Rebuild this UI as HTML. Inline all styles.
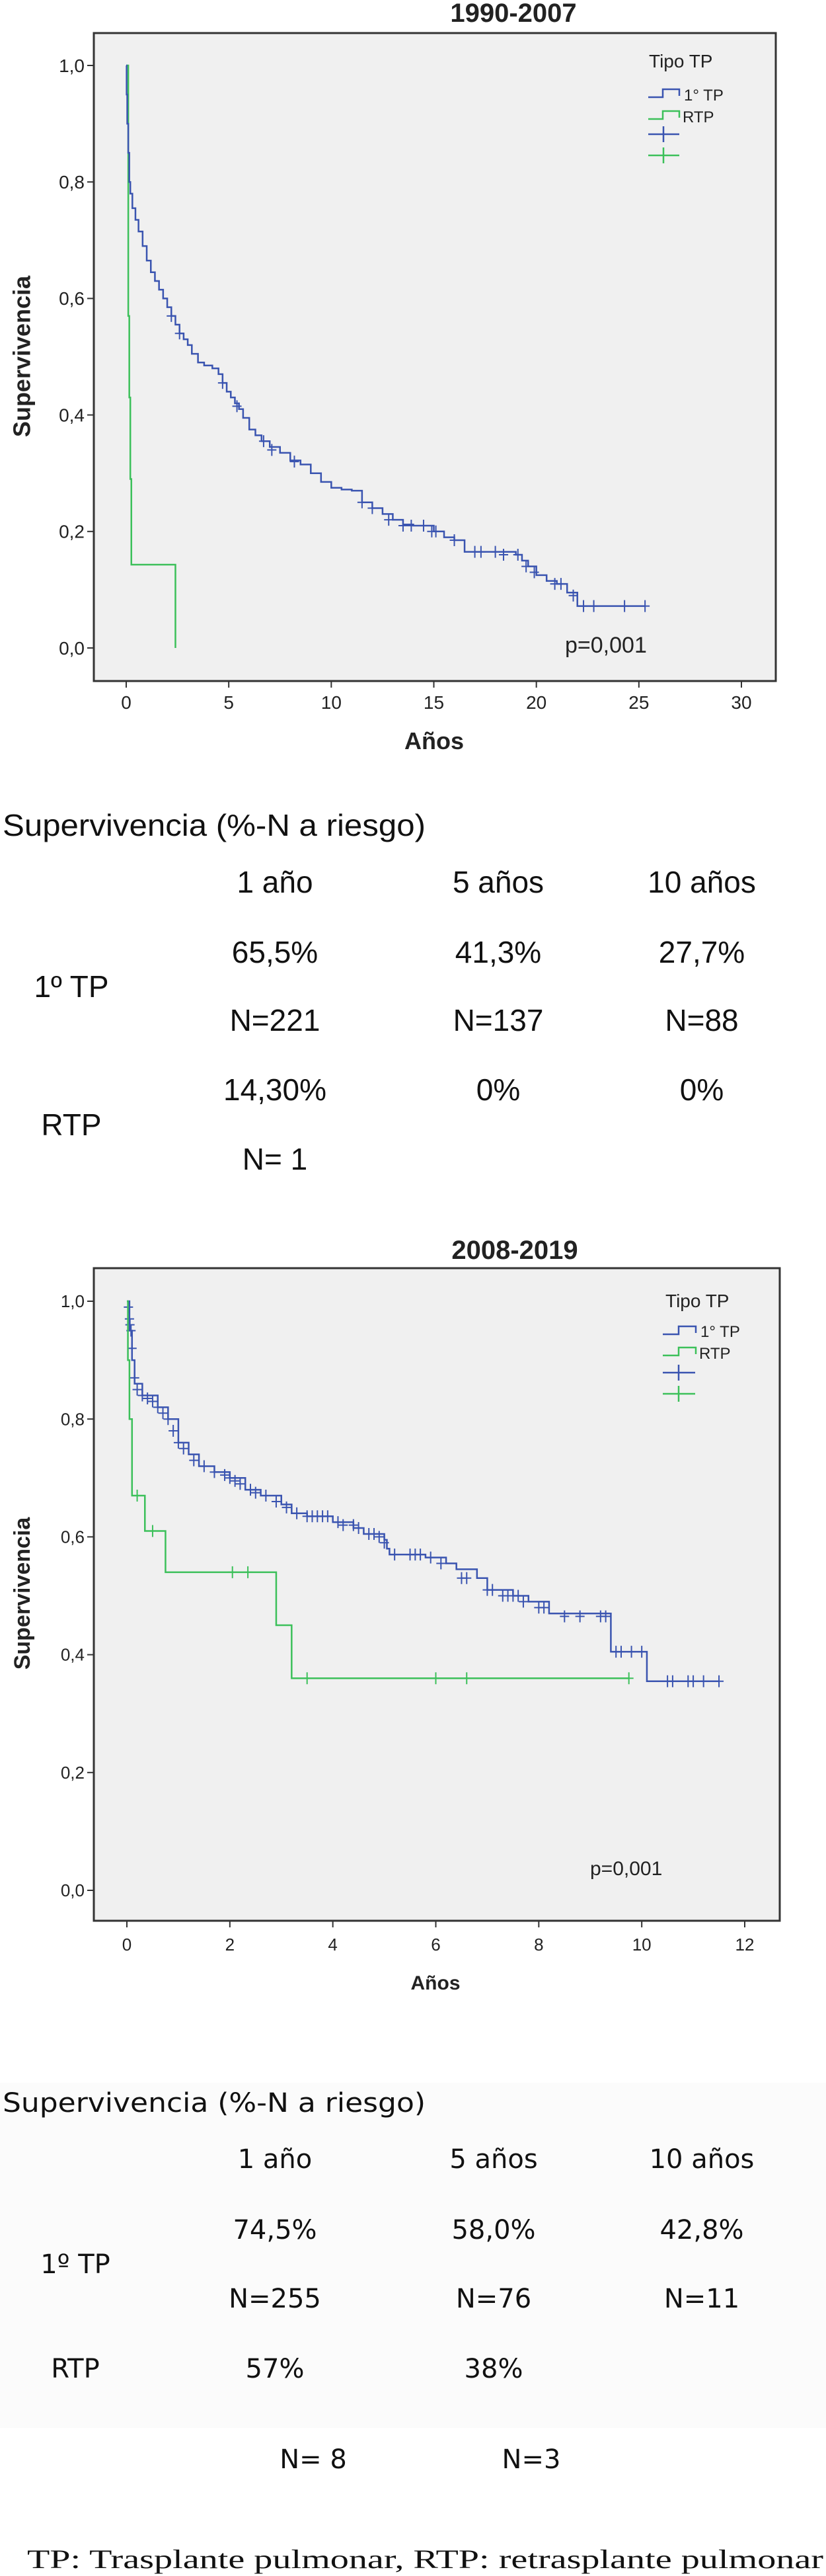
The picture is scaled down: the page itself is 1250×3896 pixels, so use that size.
<!DOCTYPE html>
<html><head><meta charset="utf-8"><style>
html,body{margin:0;padding:0;background:#fff;}
svg{display:block;}
.ax{font-family:"Liberation Sans",sans-serif;fill:#222;}
.b{font-weight:bold;}
.t1{font-family:"Liberation Sans Narrow","Liberation Sans",sans-serif;fill:#111;}
.t2{font-family:"DejaVu Sans","Liberation Sans",sans-serif;fill:#111;}
.ft{font-family:"Liberation Serif",serif;fill:#111;}
</style></head><body>
<svg id="root" width="1250" height="3896" viewBox="0 0 1250 3896" xmlns="http://www.w3.org/2000/svg">
<rect x="0" y="3150" width="1250" height="522" fill="#fbfbfb"/>
<!-- Chart 1 -->
<g>
<text class="ax b" x="777" y="33" font-size="40" text-anchor="middle">1990-2007</text>
<rect x="142" y="50" width="1032" height="980" fill="#f0f0f0" stroke="#333" stroke-width="3"/>
<g id="c1ax"></g><g id="c1marks"></g>
<text class="ax b" x="36" y="539" font-size="36" text-anchor="middle" transform="rotate(-90 36 539)" dominant-baseline="middle">Supervivencia</text>
<text class="ax b" x="657" y="1133" font-size="36" text-anchor="middle">Años</text>
<text class="ax" x="855" y="987" font-size="34">p=0,001</text>
<g>
<text class="ax" x="982" y="102" font-size="28">Tipo TP</text>
<path d="M981 147h22v-12h25v10" fill="none" stroke="#3a54b0" stroke-width="2.5"/>
<text class="ax" x="1035" y="152" font-size="24">1° TP</text>
<path d="M981 180h22v-12h25v10" fill="none" stroke="#3cc05a" stroke-width="2.5"/>
<text class="ax" x="1033" y="185" font-size="24">RTP</text>
<path d="M981 203h47M1004 191v24" stroke="#3a54b0" stroke-width="2.5"/>
<path d="M981 235h47M1004 223v24" stroke="#3cc05a" stroke-width="2.5"/>
</g>
</g>
<!-- Table 1 -->
<g font-size="46">
<text class="t1" x="4" y="1264" textLength="640" lengthAdjust="spacingAndGlyphs">Supervivencia (%-N a riesgo)</text>
<text class="t1" x="416" y="1350" text-anchor="middle">1 año</text>
<text class="t1" x="754" y="1350" text-anchor="middle">5 años</text>
<text class="t1" x="1062" y="1350" text-anchor="middle">10 años</text>
<text class="t1" x="108" y="1508" text-anchor="middle">1º TP</text>
<text class="t1" x="416" y="1456" text-anchor="middle">65,5%</text>
<text class="t1" x="754" y="1456" text-anchor="middle">41,3%</text>
<text class="t1" x="1062" y="1456" text-anchor="middle">27,7%</text>
<text class="t1" x="416" y="1559" text-anchor="middle">N=221</text>
<text class="t1" x="754" y="1559" text-anchor="middle">N=137</text>
<text class="t1" x="1062" y="1559" text-anchor="middle">N=88</text>
<text class="t1" x="108" y="1717" text-anchor="middle">RTP</text>
<text class="t1" x="416" y="1664" text-anchor="middle">14,30%</text>
<text class="t1" x="754" y="1664" text-anchor="middle">0%</text>
<text class="t1" x="1062" y="1664" text-anchor="middle">0%</text>
<text class="t1" x="416" y="1769" text-anchor="middle">N= 1</text>
</g>
<!-- Chart 2 -->
<g>
<text class="ax b" x="779" y="1904" font-size="40" text-anchor="middle">2008-2019</text>
<rect x="142" y="1918" width="1038" height="987" fill="#f0f0f0" stroke="#333" stroke-width="3"/>
<g id="c2ax"></g><g id="c2marks"></g>
<text class="ax b" x="36" y="2410" font-size="34" text-anchor="middle" transform="rotate(-90 36 2410)" dominant-baseline="middle">Supervivencia</text>
<text class="ax b" x="659" y="3009" font-size="30" text-anchor="middle">Años</text>
<text class="ax" x="893" y="2836" font-size="30">p=0,001</text>
<g>
<text class="ax" x="1007" y="1977" font-size="28">Tipo TP</text>
<path d="M1003 2018h24v-12h26v10" fill="none" stroke="#3a54b0" stroke-width="2.5"/>
<text class="ax" x="1060" y="2022" font-size="24">1° TP</text>
<path d="M1003 2050h24v-12h26v10" fill="none" stroke="#3cc05a" stroke-width="2.5"/>
<text class="ax" x="1058" y="2055" font-size="24">RTP</text>
<path d="M1003 2076h49M1027 2064v24" stroke="#3a54b0" stroke-width="2.5"/>
<path d="M1003 2108h49M1027 2096v24" stroke="#3cc05a" stroke-width="2.5"/>
</g>
</g>
<!-- Table 2 -->
<g font-size="40">
<text class="t2" x="4" y="3194" textLength="640" lengthAdjust="spacingAndGlyphs">Supervivencia (%-N a riesgo)</text>
<text class="t2" x="416" y="3279" text-anchor="middle">1 año</text>
<text class="t2" x="747" y="3279" text-anchor="middle">5 años</text>
<text class="t2" x="1062" y="3279" text-anchor="middle">10 años</text>
<text class="t2" x="114" y="3438" text-anchor="middle">1º TP</text>
<text class="t2" x="416" y="3386" text-anchor="middle">74,5%</text>
<text class="t2" x="747" y="3386" text-anchor="middle">58,0%</text>
<text class="t2" x="1062" y="3386" text-anchor="middle">42,8%</text>
<text class="t2" x="416" y="3490" text-anchor="middle">N=255</text>
<text class="t2" x="747" y="3490" text-anchor="middle">N=76</text>
<text class="t2" x="1062" y="3490" text-anchor="middle">N=11</text>
<text class="t2" x="114" y="3596" text-anchor="middle">RTP</text>
<text class="t2" x="416" y="3596" text-anchor="middle">57%</text>
<text class="t2" x="747" y="3596" text-anchor="middle">38%</text>
<text class="t2" x="474" y="3733" text-anchor="middle">N= 8</text>
<text class="t2" x="804" y="3733" text-anchor="middle">N=3</text>
</g>
<text class="ft" x="41" y="3884" font-size="40" textLength="1205" lengthAdjust="spacingAndGlyphs">TP: Trasplante pulmonar, RTP: retrasplante pulmonar</text>
</svg>
<script>
// Chart 1 data (1990-2007)
const c1XTicks = [0, 5, 10, 15, 20, 25, 30];
const c1YTicks = [0, 0.2, 0.4, 0.6, 0.8, 1.0];
const c1YLabels = ["0,0", "0,2", "0,4", "0,6", "0,8", "1,0"];
const c1BlueT = [0,0.02,0.05,0.1,0.15,0.2,0.3,0.45,0.6,0.8,1,1.2,1.4,1.6,1.8,2,2.2,2.4,2.6,2.8,3,3.2,3.5,3.8,4.2,4.5,4.7,4.9,5.1,5.3,5.5,5.7,6,6.3,6.6,7,7.5,8,8.5,9,9.5,10,10.5,11,11.5,12,12.5,13,13.5,14,14.5,15,15.5,16,16.5,19,19.3,19.6,20,20.5,21,21.5,22,25.3];
const c1BlueS = [1.0,0.95,0.9,0.85,0.8,0.78,0.755,0.735,0.715,0.69,0.665,0.645,0.63,0.615,0.6,0.585,0.57,0.555,0.54,0.53,0.52,0.505,0.49,0.485,0.48,0.47,0.455,0.44,0.43,0.42,0.41,0.395,0.375,0.365,0.355,0.345,0.335,0.322,0.315,0.30,0.285,0.275,0.272,0.27,0.25,0.24,0.23,0.22,0.212,0.21,0.21,0.20,0.19,0.185,0.165,0.16,0.15,0.14,0.125,0.115,0.11,0.095,0.072,0.072];
const c1BlueCensT = [2.2,2.6,4.7,5.4,6.7,7.1,8.2,11.5,12,12.8,13.5,13.9,14.5,14.9,15.1,16,17,17.3,18,18.4,19.1,19.5,19.9,20.9,21.2,21.8,22.3,22.8,24.3,25.3];
const c1BlueCensS = [0.57,0.54,0.455,0.415,0.355,0.34,0.32,0.25,0.24,0.22,0.21,0.21,0.21,0.20,0.20,0.185,0.165,0.165,0.165,0.16,0.16,0.14,0.13,0.11,0.11,0.09,0.072,0.072,0.072,0.072];
const c1GreenT = [0,0.1,0.15,0.2,0.25,2.4];
const c1GreenS = [1.0,0.57,0.43,0.29,0.143,0];
// Chart 2 data (2008-2019)
const c2XTicks = [0, 2, 4, 6, 8, 10, 12];
const c2YTicks = [0, 0.2, 0.4, 0.6, 0.8, 1.0];
const c2YLabels = ["0,0", "0,2", "0,4", "0,6", "0,8", "1,0"];
const c2BlueT = [0,0.05,0.1,0.15,0.3,0.6,0.8,1,1.2,1.4,1.7,2,2.3,2.6,3,3.2,3.5,4,4.4,4.6,5,5.05,5.1,5.8,6.2,6.4,6.8,7,7.5,7.8,8.2,9.4,10.1,11.5];
const c2BlueS = [1.0,0.95,0.9,0.86,0.84,0.82,0.80,0.76,0.74,0.72,0.71,0.70,0.68,0.67,0.655,0.64,0.635,0.625,0.615,0.605,0.595,0.58,0.57,0.565,0.555,0.545,0.53,0.51,0.50,0.49,0.47,0.405,0.355,0.355];
const c2BlueCensT = [0.03,0.05,0.06,0.08,0.1,0.15,0.2,0.3,0.4,0.5,0.6,0.7,0.8,0.9,1.0,1.1,1.3,1.5,1.7,1.9,2.0,2.1,2.2,2.4,2.5,2.7,2.9,3.1,3.3,3.5,3.6,3.7,3.8,3.9,4.1,4.2,4.4,4.5,4.7,4.8,4.9,5.0,5.2,5.5,5.6,5.7,5.9,6.1,6.5,6.6,7.0,7.1,7.3,7.4,7.5,7.6,7.7,8.0,8.1,8.5,8.8,9.2,9.3,9.5,9.6,9.8,10.0,10.5,10.6,10.9,11.0,11.2,11.5];
const c2BlueCensS = [0.99,0.97,0.96,0.95,0.92,0.87,0.85,0.84,0.835,0.83,0.82,0.81,0.80,0.78,0.76,0.75,0.73,0.72,0.71,0.705,0.70,0.695,0.69,0.68,0.675,0.67,0.66,0.65,0.64,0.635,0.635,0.635,0.635,0.635,0.625,0.62,0.62,0.615,0.605,0.605,0.60,0.59,0.57,0.57,0.57,0.57,0.565,0.555,0.53,0.53,0.51,0.51,0.50,0.50,0.50,0.50,0.49,0.48,0.48,0.465,0.465,0.465,0.465,0.405,0.405,0.405,0.405,0.355,0.355,0.355,0.355,0.355,0.355];
const c2GreenT = [0,0.02,0.05,0.1,0.35,0.75,2.9,3.2,9.75];
const c2GreenS = [1.0,0.9,0.8,0.67,0.61,0.54,0.45,0.36,0.36];
const c2GreenCensT = [0.2,0.5,2.05,2.35,3.5,6.0,6.6,9.75];
const c2GreenCensS = [0.67,0.61,0.54,0.54,0.36,0.36,0.36,0.36];

const NS = "http://www.w3.org/2000/svg";
function mk(tag, attrs, parent){const e=document.createElementNS(NS,tag);for(const k in attrs)e.setAttribute(k,attrs[k]);parent.appendChild(e);return e;}

function drawChart(cfg){
  const ax=document.getElementById(cfg.axId), mg=document.getElementById(cfg.marksId);
  const xs=t=>cfg.x0+(t-cfg.xMin)/(cfg.xMax-cfg.xMin)*(cfg.x1-cfg.x0);
  const ys=s=>cfg.y0+(s)*(cfg.y1-cfg.y0);
  cfg.xTicks.forEach(t=>{
    const l=mk("line",{x1:xs(t),x2:xs(t),y1:cfg.frameB,y2:cfg.frameB+10,stroke:"#333","stroke-width":2},ax);
    
    
    const tx=mk("text",{x:xs(t),y:cfg.xLabY,"font-size":cfg.fs,"text-anchor":"middle",class:"ax"},ax);
    tx.textContent=t;
    
    
  });
  cfg.yTicks.forEach((v,i)=>{
    const l=mk("line",{x1:cfg.frameL-10,x2:cfg.frameL,y1:ys(v),y2:ys(v),stroke:"#333","stroke-width":2},ax);
    
    
    const tx=mk("text",{x:cfg.frameL-14,y:ys(v)+cfg.fs*0.35,"font-size":cfg.fs,"text-anchor":"end",class:"ax"},ax);
    tx.textContent=cfg.yLabels[i];
    
    
  });
  cfg.series.forEach(sr=>{
    let d="M"+xs(sr.t[0])+" "+ys(sr.s[0]);
    for(let i=1;i<sr.t.length;i++){d+=" H"+xs(sr.t[i])+" V"+ys(sr.s[i]);}
    const p=mk("path",{d:d,fill:"none",stroke:sr.color,"stroke-width":2.5},mg);
    
    
    if(sr.ct){
      sr.ct.forEach((t,i)=>{
        const cx=xs(t),cy=ys(sr.cs[i]);
        const c=mk("path",{d:`M${cx-7} ${cy}h14M${cx} ${cy-9}v18`,stroke:sr.color,"stroke-width":2},mg);
        
        
      });
    }
  });
}
drawChart({axId:"c1ax",marksId:"c1marks",x0:191,x1:1122,xMin:0,xMax:30,y0:980,y1:99,frameL:142,frameB:1030,xLabY:1072,fs:28,
  xTicks:c1XTicks,yTicks:c1YTicks,yLabels:c1YLabels,
  series:[{name:"rtp",t:c1GreenT,s:c1GreenS,color:"#3cc05a"},
          {name:"1tp",t:c1BlueT,s:c1BlueS,color:"#3a54b0",ct:c1BlueCensT,cs:c1BlueCensS}]});
drawChart({axId:"c2ax",marksId:"c2marks",x0:192,x1:1127,xMin:0,xMax:12,y0:2859,y1:1968,frameL:142,frameB:2905,xLabY:2950,fs:26,
  xTicks:c2XTicks,yTicks:c2YTicks,yLabels:c2YLabels,
  series:[{name:"1tp",t:c2BlueT,s:c2BlueS,color:"#3a54b0",ct:c2BlueCensT,cs:c2BlueCensS},
          {name:"rtp",t:c2GreenT,s:c2GreenS,color:"#3cc05a",ct:c2GreenCensT,cs:c2GreenCensS}]});
</script>
</body></html>
